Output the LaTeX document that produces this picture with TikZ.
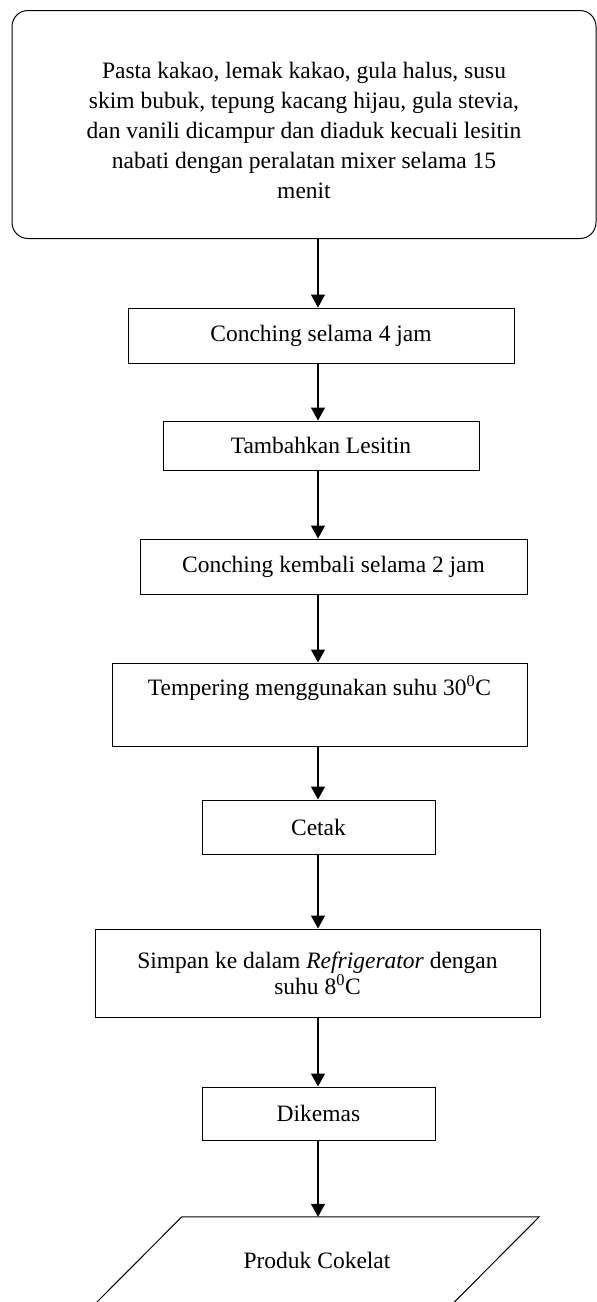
\documentclass[tikz,border=0pt]{standalone}
\usepackage{fontspec}
\setmainfont{Liberation Serif}
\usetikzlibrary{arrows.meta}

\begin{document}
\begin{tikzpicture}[x=1pt,y=-1pt,
    mulai/.style={draw,line width=1pt,rounded corners=16pt,align=center,
      minimum width=584pt,minimum height=228pt,
      font=\fontsize{23.5}{30}\selectfont},
    langkah/.style={draw,line width=1pt,align=center,inner sep=0pt,
      font=\fontsize{23.5}{26}\selectfont},
    produk/.style={inner sep=0pt,minimum width=444pt,minimum height=87pt,
      font=\fontsize{23.5}{26}\selectfont},
    alir/.style={line width=1.4pt,-{Triangle[length=13pt,width=14pt]}}]
  \useasboundingbox (0,0) rectangle (597,1302);
  \node[mulai] (campur) at (304,124.5)
    {\rule{0pt}{29pt}Pasta kakao, lemak kakao, gula halus, susu\\
     skim bubuk, tepung kacang hijau, gula stevia,\\
     dan vanili dicampur dan diaduk kecuali lesitin\\
     nabati dengan peralatan mixer selama 15\\
     menit};
  \node[langkah,minimum width=386pt,minimum height=55pt] (conch1) at (321,335.5)
    {Conching selama 4 jam};
  \node[langkah,minimum width=316pt,minimum height=49pt] (lesitin) at (321,445.5)
    {Tambahkan Lesitin};
  \node[langkah,minimum width=387pt,minimum height=55pt] (conch2) at (333.5,566.5)
    {Conching kembali selama 2 jam};
  \node[langkah,minimum width=415pt,minimum height=83pt,text depth=38pt] (temper) at (319.5,704.5)
    {Tempering menggunakan suhu 30\textsuperscript{0}C};
  \node[langkah,minimum width=233pt,minimum height=54pt] (cetak) at (318.5,827)
    {Cetak};
  \node[langkah,minimum width=445pt,minimum height=88pt] (simpan) at (317.5,973)
    {Simpan ke dalam \textit{Refrigerator} dengan\\ suhu 8\textsuperscript{0}C};
  \node[langkah,minimum width=233pt,minimum height=53pt] (kemas) at (318.5,1113.5)
    {Dikemas};
  \node[produk] (coklat) at (317,1260.5) {Produk Cokelat};
  % jajar genjang hasil akhir
  \draw[line width=1pt] ([xshift=87pt]coklat.north west) -- (coklat.north east)
    -- ([xshift=-87pt]coklat.south east) -- (coklat.south west) -- cycle;
  \coordinate (spine) at (318,0);
  \begin{scope}[alir]
    \draw (campur.south -| spine) to (conch1.north -| spine);
    \draw (conch1.south -| spine) to (lesitin.north -| spine);
    \draw (lesitin.south -| spine) to (conch2.north -| spine);
    \draw (conch2.south -| spine) to (temper.north -| spine);
    \draw (temper.south -| spine) to (cetak.north -| spine);
    \draw (cetak.south -| spine) to (simpan.north -| spine);
    \draw (simpan.south -| spine) to (kemas.north -| spine);
    \draw (kemas.south -| spine) to (coklat.north -| spine);
  \end{scope}
\end{tikzpicture}
\end{document}
